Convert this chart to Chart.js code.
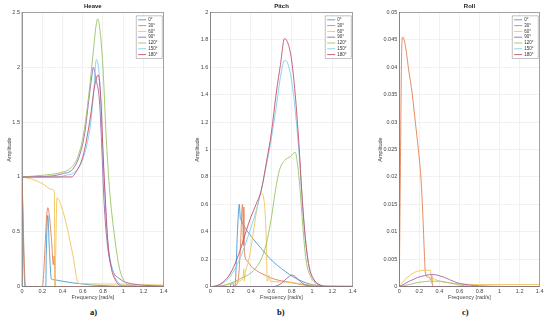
<!DOCTYPE html>
<html>
<head>
<meta charset="utf-8">
<script src="https://cdn.jsdelivr.net/npm/chart.js@4"></script>
<style>
  body { margin: 0; background: #fff; width: 550px; height: 326px; position: relative; overflow: hidden; }
  canvas { position: absolute; top: 0; }
  .cap { position: absolute; top: 307px; font: bold 8.5px "Liberation Serif", serif; color: #111; }
</style>
</head>
<body>
<canvas id="heave" width="169" height="301" style="left:0px"></canvas>
<canvas id="pitch" width="170" height="301" style="left:188px"></canvas>
<canvas id="roll" width="174" height="301" style="left:371px"></canvas>
<div class="cap" style="left:90px">a)</div>
<div class="cap" style="left:277px">b)</div>
<div class="cap" style="left:462px">c)</div>
<script>
// headings (wave direction)
const headings = ['0°', '30°', '60°', '90°', '120°', '150°', '180°'];
const xTicks = [0, 0.2, 0.4, 0.6, 0.8, 1, 1.2, 1.4];

// Heave RAO, [frequency rad/s, amplitude]
const heave0 = [[0,1],[0.03,0],[0.235,0],[0.24,0.3],[0.255,0.65],[0.27,0.35],[0.29,0.07],[0.3,0.065],[0.4,0.05],[0.5,0.035],[0.6,0.025],[0.7,0.015],[0.8,0.01],[0.9,0.005],[1.0,0.002],[1.4,0]];
const heave30 = [[0,1],[0.035,0],[0.2,0],[0.255,0.72],[0.29,0.45],[0.31,0.2],[0.318,0.28],[0.33,0],[1.4,0]];
const heave60 = [[0,1],[0.1,0.98],[0.2,0.94],[0.3,0.885],[0.32,0.87],[0.325,0.01],[0.335,0.4],[0.345,0.81],[0.4,0.7],[0.45,0.52],[0.5,0.3],[0.56,0.03],[0.8,0.025],[1.2,0.02],[1.4,0.015]];
const heave90 = [[0,1],[0.3,1.01],[0.4,1.03],[0.5,1.07],[0.57,1.2],[0.62,1.4],[0.66,1.7],[0.69,1.92],[0.705,2.0],[0.733,1.88],[0.765,1.7],[0.79,1.24],[0.81,0.79],[0.847,0.36],[0.896,0.15],[0.96,0.075],[1.09,0.025],[1.4,0.006]];
const heave120 = [[0,1],[0.25,1.02],[0.38,1.04],[0.48,1.08],[0.55,1.18],[0.61,1.4],[0.66,1.75],[0.7,2.1],[0.735,2.4],[0.748,2.44],[0.765,2.38],[0.8,2.0],[0.83,1.4],[0.863,0.91],[0.91,0.49],[0.96,0.18],[1.01,0.05],[1.08,0.01],[1.4,0]];
const heave150 = [[0,1],[0.35,1.0],[0.45,1.02],[0.5,1.03],[0.57,1.1],[0.63,1.25],[0.68,1.5],[0.71,1.8],[0.735,2.07],[0.765,1.91],[0.79,1.4],[0.818,0.85],[0.847,0.42],[0.896,0.15],[0.945,0.045],[1.01,0.01],[1.4,0]];
const heave180 = [[0,1],[0.49,1.0],[0.53,1.04],[0.6,1.18],[0.65,1.4],[0.684,1.6],[0.716,1.82],[0.752,1.93],[0.78,1.7],[0.8,1.24],[0.824,0.79],[0.847,0.42],[0.88,0.18],[0.93,0.05],[0.99,0.005],[1.4,0]];

// Pitch RAO
const pitch0 = [[0,0],[0.19,0],[0.215,0.03],[0.235,0],[0.245,0.02],[0.27,0.45],[0.285,0.6],[0.295,0.5],[0.3,0.49],[0.35,0.42],[0.42,0.35],[0.5,0.28],[0.58,0.21],[0.66,0.155],[0.74,0.11],[0.82,0.07],[0.9,0.04],[1.0,0.015],[1.1,0.005],[1.4,0]];
const pitch30 = [[0,0],[0.22,0],[0.27,0.03],[0.3,0.35],[0.31,0.55],[0.318,0.6],[0.325,0.3],[0.33,0.58],[0.336,0.25],[0.36,0.19],[0.4,0.15],[0.47,0.11],[0.55,0.08],[0.63,0.055],[0.72,0.04],[0.8,0.03],[0.9,0.015],[1.0,0.006],[1.1,0.002],[1.4,0]];
const pitch60 = [[0,0],[0.1,0.005],[0.2,0.02],[0.28,0.04],[0.32,0.06],[0.33,0.13],[0.335,0.04],[0.34,0.08],[0.38,0.2],[0.42,0.38],[0.46,0.57],[0.5,0.68],[0.53,0.62],[0.55,0.35],[0.56,0.04],[0.58,0.08],[0.59,0.04],[0.7,0.035],[0.8,0.03],[0.9,0.02],[1.0,0.012],[1.2,0.008],[1.4,0.006]];
const pitch90 = [[0,0],[0.6,0],[0.65,0.005],[0.7,0.025],[0.75,0.06],[0.805,0.085],[0.84,0.07],[0.88,0.04],[0.93,0.015],[1.0,0.003],[1.4,0]];
const pitch120 = [[0,0],[0.1,0.005],[0.2,0.025],[0.3,0.06],[0.4,0.1],[0.45,0.14],[0.5,0.2],[0.55,0.31],[0.6,0.5],[0.64,0.7],[0.68,0.85],[0.73,0.92],[0.79,0.95],[0.835,0.98],[0.86,0.88],[0.88,0.73],[0.91,0.44],[0.94,0.2],[0.99,0.07],[1.05,0.02],[1.12,0.005],[1.2,0],[1.4,0]];
const pitch150 = [[0,0],[0.05,0.004],[0.1,0.015],[0.15,0.04],[0.2,0.08],[0.25,0.14],[0.3,0.22],[0.35,0.32],[0.4,0.43],[0.45,0.55],[0.5,0.7],[0.55,0.88],[0.6,1.08],[0.65,1.32],[0.69,1.53],[0.73,1.65],[0.76,1.63],[0.8,1.5],[0.84,1.25],[0.875,0.95],[0.905,0.62],[0.935,0.35],[0.97,0.15],[1.02,0.05],[1.08,0.012],[1.15,0],[1.4,0]];
const pitch180 = [[0,0],[0.05,0.005],[0.1,0.02],[0.15,0.05],[0.2,0.1],[0.25,0.18],[0.3,0.28],[0.35,0.4],[0.4,0.51],[0.45,0.6],[0.5,0.7],[0.55,0.9],[0.6,1.12],[0.65,1.42],[0.69,1.62],[0.73,1.81],[0.77,1.76],[0.8,1.65],[0.84,1.36],[0.875,1.0],[0.905,0.63],[0.935,0.35],[0.97,0.15],[1.02,0.05],[1.08,0.012],[1.15,0],[1.4,0]];

// Roll RAO
const roll0 = [[0,0],[1.4,0]];
const roll30 = [[0,0],[0.01,0.02],[0.025,0.044],[0.035,0.0455],[0.06,0.044],[0.09,0.04],[0.13,0.035],[0.16,0.03],[0.19,0.025],[0.215,0.02],[0.235,0.013],[0.25,0.006],[0.26,0.0025],[0.28,0.0018],[0.3,0.0017],[0.315,0.0012],[0.325,0.002],[0.33,0.0005],[0.34,0],[1.4,0]];
const roll60 = [[0,0],[0.05,0.0012],[0.1,0.002],[0.15,0.0026],[0.2,0.0029],[0.25,0.003],[0.31,0.003],[0.325,0.0005],[0.335,0.0015],[0.4,0.001],[0.5,0.0007],[0.6,0.0005],[0.8,0.0004],[1.4,0.0004]];
const roll90 = [[0,0],[0.05,0.0005],[0.1,0.001],[0.15,0.0014],[0.2,0.0018],[0.25,0.002],[0.3,0.0022],[0.35,0.0022],[0.4,0.002],[0.45,0.0017],[0.5,0.0013],[0.55,0.0009],[0.6,0.0006],[0.7,0.0003],[0.8,0.00015],[1.0,0.00005],[1.4,0]];
const roll120 = [[0,0],[0.1,0.0004],[0.2,0.0008],[0.3,0.001],[0.4,0.001],[0.5,0.0007],[0.6,0.0003],[0.7,0.0001],[0.8,0],[1.4,0]];
const roll150 = [[0,0],[1.4,0]];
const roll180 = [[0,0],[1.4,0]];

// matlab default line colours, a little washed out as in the scan
const colors = ['#4a9ad2', '#e27f52', '#f1c45a', '#a064ad', '#98c465', '#7ccff2', '#c4506a'];
const font = '"Liberation Sans", Arial, sans-serif';

// legend box inside the top right corner, matlab style
const boxLegend = {
  id: 'boxLegend',
  afterDraw(chart) {
    const ctx = chart.ctx, a = chart.chartArea;
    const sets = chart.data.datasets;
    const w = 26, rowH = 5.8, h = sets.length * rowH + 2;
    const x = a.right - w - 1.5, y = a.top + 3.5;
    ctx.save();
    ctx.fillStyle = '#fff';
    ctx.fillRect(x, y, w, h);
    ctx.strokeStyle = '#9a9a9a';
    ctx.lineWidth = 0.6;
    ctx.strokeRect(x, y, w, h);
    ctx.font = '4.5px ' + font;
    ctx.textBaseline = 'middle';
    sets.forEach(function(d, i) {
      const cy = y + 1 + rowH * (i + 0.5);
      ctx.strokeStyle = d.borderColor;
      ctx.lineWidth = 0.9;
      ctx.beginPath();
      ctx.moveTo(x + 2, cy);
      ctx.lineTo(x + 10, cy);
      ctx.stroke();
      ctx.fillStyle = '#333';
      ctx.fillText(d.label, x + 12, cy);
    });
    ctx.restore();
  }
};

// top and right edge of the axes box
const axesBox = {
  id: 'axesBox',
  afterDatasetsDraw(chart) {
    const ctx = chart.ctx, a = chart.chartArea;
    ctx.save();
    ctx.strokeStyle = '#707070';
    ctx.lineWidth = 0.6;
    ctx.strokeRect(a.left, a.top, a.right - a.left, a.bottom - a.top);
    ctx.restore();
  }
};

function fmt(v) { return String(Number(v.toFixed(4))); }

function makeChart(id, title, series, yMax, yStep, yWidth, rightPad) {
  const datasets = series.map(function(s, i) {
    return {
      label: headings[i],
      data: s.map(p => ({ x: p[0], y: p[1] })),
      borderColor: colors[i],
      borderWidth: 0.9,
      pointRadius: 0,
      fill: false,
      cubicInterpolationMode: 'monotone',
      order: series.length - i
    };
  });
  return new Chart(document.getElementById(id), {
    type: 'line',
    data: { datasets: datasets },
    plugins: [axesBox, boxLegend],
    options: {
      responsive: false,
      animation: false,
      layout: { padding: { left: 0, right: rightPad, top: 0, bottom: 0 } },
      plugins: {
        legend: { display: false },
        tooltip: { enabled: false },
        title: {
          display: true, text: title, fullSize: false, color: '#222',
          font: { family: font, size: 6, weight: 'bold' },
          padding: { top: 3, bottom: 2.2 }
        }
      },
      scales: {
        x: {
          type: 'linear', min: 0, max: 1.4,
          afterBuildTicks: s => { s.ticks = xTicks.map(v => ({ value: v })); },
          afterFit: s => { s.height = 14.3; },
          ticks: { callback: fmt, color: '#444', padding: 1.5, maxRotation: 0, font: { family: font, size: 5.5 } },
          grid: { color: '#e8e8e8', lineWidth: 0.6, drawTicks: false },
          border: { color: '#707070', width: 0.6 },
          title: { display: true, text: 'Frequency [rad/s]', color: '#444', padding: 0, font: { family: font, size: 5.5 } }
        },
        y: {
          min: 0, max: yMax,
          afterFit: s => { s.width = yWidth; },
          ticks: { stepSize: yStep, callback: fmt, color: '#444', padding: 2, font: { family: font, size: 5.5 } },
          grid: { color: '#e8e8e8', lineWidth: 0.6, drawTicks: false },
          border: { color: '#707070', width: 0.6 },
          title: { display: true, text: 'Amplitude', color: '#444', padding: { top: 6, bottom: 0 }, font: { family: font, size: 5.5 } }
        }
      }
    }
  });
}

makeChart('heave', 'Heave', [heave0, heave30, heave60, heave90, heave120, heave150, heave180], 2.5, 0.5, 22, 4.3);
makeChart('pitch', 'Pitch', [pitch0, pitch30, pitch60, pitch90, pitch120, pitch150, pitch180], 2, 0.2, 22.3, 4.3);
makeChart('roll', 'Roll', [roll0, roll30, roll60, roll90, roll120, roll150, roll180], 0.05, 0.005, 28.3, 2.7);
</script>
</body>
</html>
